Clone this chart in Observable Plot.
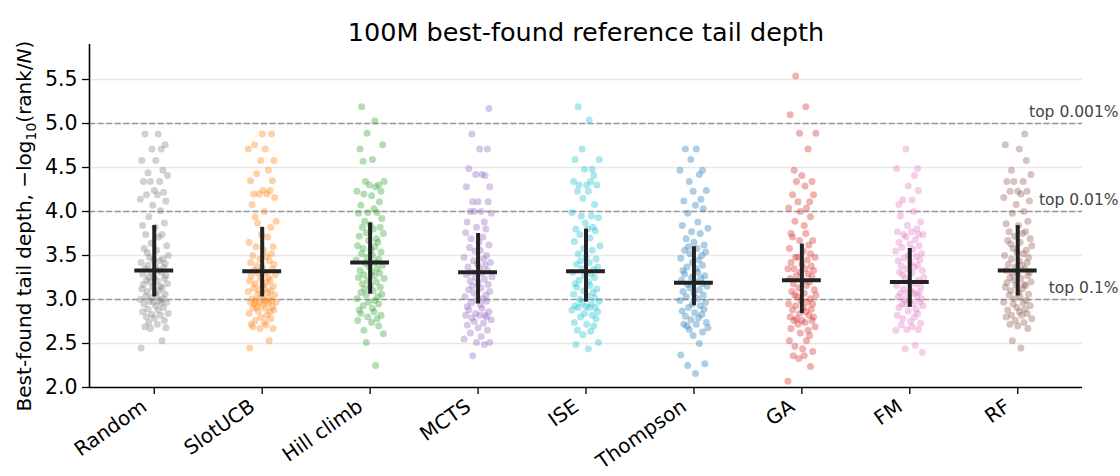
<!DOCTYPE html>
<html>
<head>
<meta charset="utf-8">
<script src="https://cdn.jsdelivr.net/npm/d3@7"></script>
<script src="https://cdn.jsdelivr.net/npm/@observablehq/plot@0.6"></script>
<style>
  html, body { margin: 0; padding: 0; background: #fff; }
  #chart svg { display: block; }
</style>
</head>
<body>
<div id="chart"></div>
<script>
// Methods, in plotting order, and their tab10 colours
const categories = ["Random", "SlotUCB", "Hill climb", "MCTS", "ISE", "Thompson", "GA", "FM", "RF"];
const colors = ["#7f7f7f", "#ff7f0e", "#2ca02c", "#9467bd", "#17becf", "#1f77b4", "#d62728", "#e377c2", "#8c564b"];

// Best-found tail depth, -log10(rank/N), one value per run
const depthRandom = [4.88, 4.88, 4.76, 4.71, 4.71, 4.58, 4.58, 4.47, 4.44, 4.41, 4.34, 4.34, 4.34, 4.24, 4.22, 4.19, 4.19, 4.14, 4.12, 4.07,
  4.01, 3.94, 3.87, 3.84, 3.82, 3.74, 3.74, 3.71, 3.64, 3.61, 3.58, 3.56, 3.53, 3.50, 3.48, 3.46, 3.45, 3.44, 3.42, 3.41,
  3.39, 3.37, 3.36, 3.35, 3.33, 3.31, 3.31, 3.29, 3.27, 3.26, 3.25, 3.24, 3.22, 3.21, 3.20, 3.18, 3.17, 3.15, 3.14, 3.13,
  3.12, 3.10, 3.09, 3.07, 3.06, 3.04, 3.03, 3.02, 3.01, 3.00, 2.99, 2.98, 2.97, 2.97, 2.96, 2.95, 2.93, 2.91, 2.89, 2.88,
  2.86, 2.84, 2.83, 2.82, 2.80, 2.79, 2.76, 2.74, 2.72, 2.69, 2.68, 2.67, 2.53, 2.45];
const depthSlotUCB = [4.88, 4.88, 4.76, 4.71, 4.71, 4.58, 4.58, 4.47, 4.43, 4.35, 4.35, 4.24, 4.24, 4.20, 4.20, 4.20, 4.16, 4.08, 4.00, 3.94,
  3.89, 3.87, 3.82, 3.74, 3.71, 3.65, 3.60, 3.60, 3.56, 3.52, 3.50, 3.49, 3.46, 3.44, 3.42, 3.40, 3.38, 3.36, 3.34, 3.33,
  3.31, 3.30, 3.28, 3.27, 3.25, 3.24, 3.22, 3.21, 3.19, 3.18, 3.16, 3.15, 3.13, 3.12, 3.11, 3.10, 3.09, 3.08, 3.06, 3.05,
  3.04, 3.02, 3.01, 3.00, 2.99, 2.99, 2.98, 2.97, 2.97, 2.97, 2.96, 2.95, 2.94, 2.92, 2.91, 2.90, 2.90, 2.88, 2.87, 2.86,
  2.84, 2.82, 2.80, 2.78, 2.76, 2.74, 2.72, 2.71, 2.69, 2.67, 2.67, 2.53, 2.45];
const depthHillClimb = [5.19, 5.03, 4.89, 4.76, 4.71, 4.59, 4.57, 4.34, 4.34, 4.30, 4.30, 4.28, 4.23, 4.23, 4.20, 4.18, 4.11, 4.07, 4.03, 3.99,
  3.99, 3.98, 3.92, 3.89, 3.85, 3.82, 3.82, 3.80, 3.76, 3.75, 3.72, 3.69, 3.67, 3.65, 3.61, 3.60, 3.58, 3.56, 3.54, 3.52,
  3.50, 3.48, 3.46, 3.45, 3.42, 3.41, 3.39, 3.37, 3.35, 3.33, 3.31, 3.30, 3.28, 3.27, 3.25, 3.24, 3.22, 3.20, 3.18, 3.16,
  3.14, 3.12, 3.10, 3.08, 3.06, 3.05, 3.03, 3.01, 2.99, 2.97, 2.95, 2.93, 2.90, 2.88, 2.86, 2.84, 2.82, 2.80, 2.78, 2.76,
  2.74, 2.70, 2.65, 2.61, 2.51, 2.25];
const depthMCTS = [5.17, 4.88, 4.71, 4.71, 4.49, 4.42, 4.42, 4.41, 4.28, 4.28, 4.11, 4.11, 4.11, 4.00, 4.00, 4.00, 3.98, 3.88, 3.88, 3.82,
  3.80, 3.76, 3.71, 3.69, 3.65, 3.62, 3.59, 3.56, 3.55, 3.50, 3.48, 3.46, 3.44, 3.42, 3.40, 3.39, 3.37, 3.35, 3.33, 3.31,
  3.30, 3.28, 3.26, 3.25, 3.23, 3.21, 3.19, 3.17, 3.15, 3.13, 3.11, 3.09, 3.07, 3.05, 3.03, 3.01, 2.99, 2.98, 2.96, 2.94,
  2.92, 2.90, 2.88, 2.86, 2.84, 2.82, 2.82, 2.82, 2.80, 2.79, 2.77, 2.75, 2.73, 2.71, 2.68, 2.65, 2.62, 2.58, 2.55, 2.51,
  2.51, 2.49, 2.36];
const depthISE = [5.19, 5.04, 4.71, 4.59, 4.59, 4.48, 4.48, 4.41, 4.34, 4.34, 4.30, 4.30, 4.30, 4.23, 4.23, 4.15, 4.08, 3.99, 3.95, 3.95,
  3.93, 3.87, 3.82, 3.80, 3.80, 3.78, 3.74, 3.70, 3.66, 3.61, 3.58, 3.56, 3.52, 3.49, 3.46, 3.44, 3.42, 3.40, 3.37, 3.35,
  3.34, 3.31, 3.29, 3.27, 3.25, 3.22, 3.20, 3.18, 3.16, 3.14, 3.12, 3.10, 3.08, 3.06, 3.04, 3.02, 3.00, 2.98, 2.96, 2.95,
  2.93, 2.92, 2.91, 2.91, 2.91, 2.88, 2.86, 2.84, 2.82, 2.80, 2.78, 2.74, 2.72, 2.70, 2.65, 2.64, 2.60, 2.51, 2.49, 2.44];
const depthThompson = [4.71, 4.71, 4.59, 4.47, 4.47, 4.42, 4.34, 4.24, 4.23, 4.14, 4.12, 4.07, 4.03, 3.98, 3.88, 3.84, 3.81, 3.77, 3.75, 3.69,
  3.65, 3.62, 3.60, 3.58, 3.56, 3.54, 3.52, 3.50, 3.47, 3.45, 3.42, 3.39, 3.37, 3.35, 3.33, 3.31, 3.29, 3.27, 3.25, 3.24,
  3.22, 3.20, 3.18, 3.17, 3.15, 3.13, 3.11, 3.09, 3.07, 3.05, 3.03, 3.01, 2.99, 2.97, 2.95, 2.93, 2.91, 2.89, 2.87, 2.85,
  2.83, 2.81, 2.79, 2.77, 2.74, 2.72, 2.72, 2.70, 2.68, 2.66, 2.63, 2.59, 2.50, 2.37, 2.27, 2.25, 2.16];
const depthGA = [5.54, 5.19, 5.10, 4.89, 4.89, 4.71, 4.47, 4.41, 4.34, 4.34, 4.29, 4.19, 4.19, 4.11, 4.11, 4.04, 4.04, 4.00, 3.94, 3.89,
  3.84, 3.75, 3.75, 3.71, 3.67, 3.67, 3.62, 3.58, 3.55, 3.52, 3.48, 3.48, 3.48, 3.45, 3.42, 3.40, 3.38, 3.35, 3.35, 3.35,
  3.33, 3.31, 3.29, 3.27, 3.26, 3.24, 3.22, 3.20, 3.18, 3.16, 3.13, 3.11, 3.09, 3.07, 3.05, 3.05, 3.03, 3.01, 2.99, 2.97,
  2.95, 2.95, 2.93, 2.91, 2.89, 2.88, 2.86, 2.84, 2.82, 2.80, 2.80, 2.78, 2.76, 2.76, 2.76, 2.74, 2.72, 2.69, 2.67, 2.65,
  2.62, 2.59, 2.53, 2.53, 2.47, 2.44, 2.41, 2.36, 2.36, 2.33, 2.24, 2.07];
const depthFM = [4.71, 4.49, 4.49, 4.41, 4.29, 4.24, 4.13, 4.13, 4.08, 4.00, 3.95, 3.88, 3.84, 3.80, 3.77, 3.77, 3.74, 3.74, 3.74, 3.71,
  3.68, 3.65, 3.63, 3.61, 3.59, 3.57, 3.55, 3.52, 3.50, 3.49, 3.47, 3.45, 3.44, 3.42, 3.39, 3.38, 3.37, 3.35, 3.33, 3.31,
  3.30, 3.28, 3.25, 3.24, 3.22, 3.20, 3.18, 3.16, 3.14, 3.12, 3.10, 3.08, 3.07, 3.07, 3.07, 3.05, 3.03, 3.01, 3.00, 2.98,
  2.97, 2.95, 2.95, 2.95, 2.93, 2.91, 2.89, 2.87, 2.84, 2.82, 2.80, 2.78, 2.75, 2.73, 2.71, 2.69, 2.66, 2.66, 2.65, 2.48,
  2.44, 2.40];
const depthRF = [4.88, 4.76, 4.71, 4.58, 4.47, 4.42, 4.34, 4.34, 4.34, 4.23, 4.23, 4.23, 4.20, 4.16, 4.12, 4.08, 4.00, 3.98, 3.89, 3.86,
  3.84, 3.77, 3.77, 3.75, 3.72, 3.69, 3.67, 3.65, 3.63, 3.61, 3.58, 3.56, 3.54, 3.52, 3.50, 3.48, 3.46, 3.44, 3.42, 3.40,
  3.39, 3.37, 3.35, 3.33, 3.31, 3.30, 3.29, 3.27, 3.25, 3.24, 3.22, 3.20, 3.19, 3.17, 3.16, 3.16, 3.14, 3.12, 3.10, 3.08,
  3.06, 3.05, 3.03, 3.01, 2.99, 2.97, 2.96, 2.95, 2.93, 2.91, 2.89, 2.88, 2.86, 2.84, 2.82, 2.82, 2.80, 2.78, 2.76, 2.74,
  2.72, 2.70, 2.67, 2.53, 2.45];
const depthSeries = [depthRandom, depthSlotUCB, depthHillClimb, depthMCTS, depthISE, depthThompson, depthGA, depthFM, depthRF];

// Horizontal strip offsets (in category units) for the scattered runs
const jitter = [0.05, -0.12, 0.14, -0.03, 0.09, -0.16, 0.02, 0.11, -0.08, 0.17, -0.05, 0.07, -0.14, 0.00, 0.12, -0.10, 0.04, -0.18, 0.15, -0.02,
  0.08, -0.07, 0.13, -0.15, 0.01, 0.10, -0.11, 0.06, -0.04, 0.16, -0.13, 0.03, -0.09, 0.18, -0.06, 0.11, -0.01, 0.07, -0.17, 0.14,
  -0.08, 0.02, 0.12, -0.12, 0.05, -0.03, 0.09, -0.15, 0.15, -0.07, 0.00, 0.13, -0.10, 0.04, -0.05, 0.17, -0.14, 0.08, -0.02, 0.10,
  -0.16, 0.06, -0.09, 0.01, 0.14, -0.11, 0.03, -0.04, 0.11, -0.18, 0.07, -0.06, 0.16, -0.01, 0.09, -0.13, 0.02, 0.12, -0.08, 0.05,
  -0.15, 0.18, -0.03, 0.08, -0.10, 0.00, 0.13, -0.07, 0.04, -0.12, 0.15, -0.05, 0.10, -0.17, 0.06, -0.02, 0.11, -0.09, 0.03, -0.14];
const stripWidth = 0.72; // narrows the strips around each category

// Summary per method: centre line and the vertical interval
const centers = [3.33, 3.32, 3.42, 3.31, 3.32, 3.19, 3.22, 3.20, 3.33];
const lows = [3.03, 3.03, 3.06, 2.95, 2.97, 2.93, 2.84, 2.91, 3.04];
const highs = [3.84, 3.82, 3.87, 3.75, 3.80, 3.60, 3.63, 3.58, 3.84];

// Reference thresholds and axis ticks
const refDepths = [3, 4, 5];
const refLabels = ["top 0.1%", "top 0.01%", "top 0.001%"];
const gridDepths = [2.5, 3.0, 3.5, 4.0, 4.5, 5.0, 5.5];
const yTicks = [2.0, 2.5, 3.0, 3.5, 4.0, 4.5, 5.0, 5.5];

const titleText = "100M best-found reference tail depth";

const points = depthSeries.flatMap((vals, k) =>
  vals.map((y, i) => ({x: k + stripWidth * jitter[(i + 13 * k) % jitter.length], y, color: colors[k]})));
const summary = categories.map((name, k) => ({k, mid: centers[k], lo: lows[k], hi: highs[k]}));
const refs = refDepths.map((y, i) => ({y, label: refLabels[i]}));
const catIndex = categories.map((_, k) => k);

const ink = "#222";
const chart = Plot.plot({
  width: 1120,
  height: 476,
  marginLeft: 89,
  marginRight: 38,
  marginTop: 44,
  marginBottom: 89,
  style: {fontFamily: "DejaVu Sans", fontSize: "20px", color: "#000", background: "#fff"},
  x: {type: "linear", domain: [-0.6, 8.6], axis: null},
  y: {type: "linear", domain: [2, 5.898], axis: null},
  color: {type: "identity"},
  marks: [
    Plot.ruleY(gridDepths, {stroke: "#e8e8e8", strokeWidth: 1.6}),
    Plot.ruleY(refs, {y: "y", stroke: "#9a9a9a", strokeWidth: 1.4, strokeDasharray: "6,2.6"}),
    Plot.text(refs, {y: "y", text: "label", frameAnchor: "right", textAnchor: "end", dx: 36, dy: -11,
      fontSize: 15.5, fill: "#444"}),
    Plot.dot(points, {x: "x", y: "y", fill: "color", r: 3.5, fillOpacity: 0.36}),
    Plot.ruleX(summary, {x: "k", y1: "lo", y2: "hi", stroke: ink, strokeWidth: 4}),
    Plot.ruleY(summary, {y: "mid", x1: d => d.k - 0.18, x2: d => d.k + 0.18, stroke: ink, strokeWidth: 4}),
    Plot.axisY({ticks: yTicks, tickFormat: d3.format(".1f"), tickSize: 7, tickPadding: 5, fontSize: 20.5,
      label: null, stroke: "#000", strokeWidth: 1.3}),
    Plot.axisX({ticks: catIndex, tickFormat: () => "", tickSize: 7, label: null, stroke: "#000", strokeWidth: 1.3}),
    Plot.text(categories, {x: (d, i) => i, text: d => d, frameAnchor: "bottom", textAnchor: "end",
      rotate: -35, dx: -6, dy: 22, fontSize: 20, fill: "#000"}),
    Plot.ruleX([-0.6], {stroke: "#000", strokeWidth: 1.6}),
    Plot.ruleY([2], {stroke: "#000", strokeWidth: 1.6}),
    Plot.text([titleText], {text: d => d, frameAnchor: "top", dy: -22, fontSize: 25.5, fill: "#000"})
  ]
});

// y-axis label with a subscripted base and an italic N
const yl = d3.select(chart).append("text")
  .attr("transform", "translate(31,226) rotate(-90)")
  .attr("text-anchor", "middle")
  .attr("font-family", "DejaVu Sans")
  .attr("font-size", 20)
  .attr("fill", "#000");
yl.append("tspan").text("Best-found tail depth, \u2212log");
yl.append("tspan").attr("font-size", 14).attr("dy", 5).text("10");
yl.append("tspan").attr("dy", -5).text("(rank/");
yl.append("tspan").attr("font-style", "italic").text("N");
yl.append("tspan").text(")");

document.getElementById("chart").appendChild(chart);
</script>
</body>
</html>
